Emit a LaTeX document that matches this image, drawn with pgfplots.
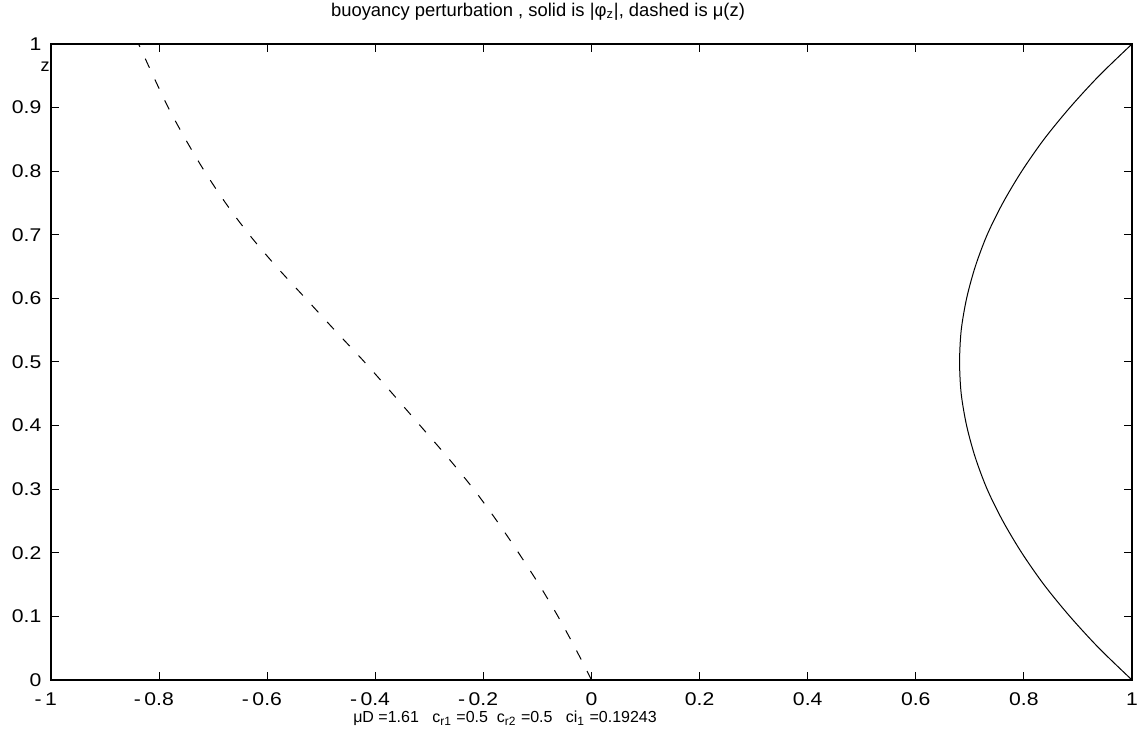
\documentclass[border=0pt]{standalone}
\usepackage{fontspec}
\setmainfont{Liberation Sans}
\usepackage{pgfplots}
\pgfplotsset{compat=1.18}
\pgfplotstableread{
x z
1.000 0.00
0.939 0.05
0.885 0.10
0.837 0.15
0.796 0.20
0.761 0.25
0.732 0.30
0.710 0.35
0.694 0.40
0.684 0.45
0.681 0.50
0.684 0.55
0.694 0.60
0.710 0.65
0.732 0.70
0.761 0.75
0.796 0.80
0.837 0.85
0.885 0.90
0.939 0.95
1.000 1.00
}\phiz
\pgfplotstableread{
x z
0.000 0.00
-0.030 0.05
-0.062 0.10
-0.097 0.15
-0.135 0.20
-0.175 0.25
-0.218 0.30
-0.266 0.35
-0.317 0.40
-0.368 0.45
-0.420 0.50
-0.475 0.55
-0.529 0.60
-0.583 0.65
-0.633 0.70
-0.677 0.75
-0.716 0.80
-0.751 0.85
-0.783 0.90
-0.811 0.95
-0.838 1.00
}\muz
\begin{document}
\begin{tikzpicture}
\useasboundingbox (-25.5pt,-27pt) rectangle (545.5pt,340pt);
\begin{axis}[
  at={(0,0)}, anchor=south west,
  scale only axis, width=540.5pt, height=318pt,
  xmin=-1, xmax=1, ymin=0, ymax=1,
  xtick={-1,-0.8,-0.6,-0.4,-0.2,0,0.2,0.4,0.6,0.8,1},
  xticklabels={\llap{-\kern1.5pt}1,\llap{-\kern1.5pt}0.8,\llap{-\kern1.5pt}0.6,\llap{-\kern1.5pt}0.4,\llap{-\kern1.5pt}0.2,0,0.2,0.4,0.6,0.8,1},
  ytick={0,0.1,0.2,0.3,0.4,0.5,0.6,0.7,0.8,0.9,1},
  yticklabels={0,0.1,0.2,0.3,0.4,0.5,0.6,0.7,0.8,0.9,1},
  tick align=inside, tick pos=both, major tick length=3.9pt,
  tick style={black, line width=0.5pt},
  axis line style={black, line width=0.6pt},
  ticklabel style={font=\fontsize{9.2}{10}\selectfont, xscale=1.15},
  xticklabel style={anchor=north, inner sep=0pt, yshift=-6pt},
  yticklabel style={anchor=east, inner sep=0pt, xshift=-4pt},
  title={buoyancy perturbation , solid is |φ\textsubscript{z}|, dashed is μ(z)},
  title style={at={(rel axis cs:0.4505,1)}, anchor=base, yshift=7.5pt, inner sep=0pt, font=\fontsize{9.2}{11}\selectfont},
  xlabel={μD =1.61\ \ \ c\textsubscript{r1} =0.5\ \ c\textsubscript{r2} =0.5\ \ \ ci\textsubscript{1} =0.19243},
  xlabel style={at={(rel axis cs:0.42,0)}, anchor=base, yshift=-21.5pt, inner sep=0pt, font=\fontsize{8}{10}\selectfont},
  ylabel={z},
  ylabel style={at={(rel axis cs:0,0.957)}, rotate=-90, anchor=base east, inner sep=0pt, xshift=-0.5pt, font=\fontsize{9}{10}\selectfont},
]
\addplot[black, line width=0.5pt, smooth, tension=0.5] table[x=x, y=z] {\phiz};
\addplot[black, line width=0.5pt, dash pattern=on 5pt off 6.5pt, smooth, tension=0.5] table[x=x, y=z] {\muz};
\end{axis}
\end{tikzpicture}
\end{document}
